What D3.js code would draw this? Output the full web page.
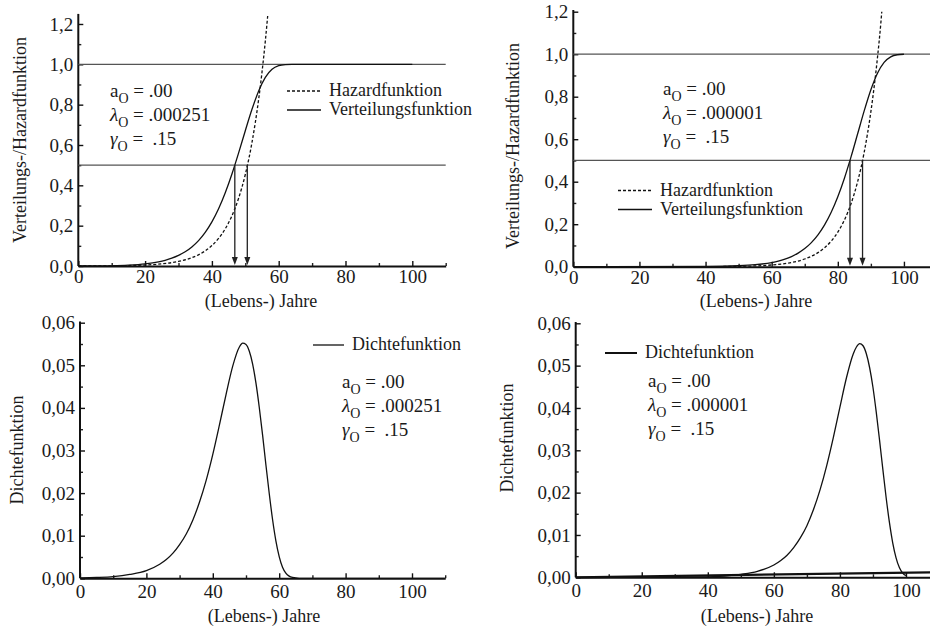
<!DOCTYPE html>
<html>
<head>
<meta charset="utf-8">
<script src="https://cdn.jsdelivr.net/npm/d3@7"></script>
<style>
  html, body { margin: 0; padding: 0; background: #fff; }
  svg { display: block; }
  text { font-family: "Liberation Serif", "Times New Roman", serif; fill: #1a1a1a; }
</style>
</head>
<body>
<svg id="chart" width="930" height="630"></svg>
<script>
// ---------------- DATA ----------------
// Panel A : lambda_0 = .000251
const distAgeA = [0,5,10,15,20,24,26,28,30,32,34,36,38,40,42,44,46,48,50,52,54,56,58,60,62,64,66,70,80,90,100];
const distValA = [0,0,0.0011,0.0042,0.0106,0.0206,0.0283,0.0386,0.0523,0.0705,0.0945,0.1260,0.1667,0.2186,0.2836,0.3629,0.4562,0.5608,0.6709,0.7770,0.8682,0.9352,0.9751,0.9932,0.9988,0.9999,1,1,1,1,1];
const hazAgeA = [0,10,20,25,30,34,38,40,42,44,46,48,50,52,54,55,56,56.7];
const hazValA = [0.00025,0.0011,0.0050,0.0107,0.0226,0.0412,0.0750,0.1013,0.1367,0.1845,0.2491,0.3362,0.4538,0.6126,0.8269,0.9607,1.1162,1.2398];
const densAgeA = [0,5,10,15,20,24,26,28,30,32,34,36,38,40,42,44,46,48,49,50,51,52,53,54,55,56,57,58,59,60,61,62,63,64,66,80,100,110];
const densValA = [0.0001,0.0002,0.0004,0.0009,0.0018,0.0033,0.0044,0.0059,0.0079,0.0104,0.0137,0.0179,0.0230,0.0291,0.0360,0.0432,0.0498,0.0543,0.0552,0.0549,0.0533,0.0503,0.0458,0.0401,0.0336,0.0266,0.0199,0.0138,0.0088,0.0051,0.0026,0.0012,0.0005,0.0002,0,0,0,0];
const markAgesA = [46.86, 50.6];   // F = 0.5 and h = 0.5

// Panel B : lambda_0 = .000001
const distAgeB = [0,40,50,55,60,62,64,66,68,70,72,74,76,78,80,82,84,86,88,90,92,94,96,98,100];
const distValB = [0,0.001,0.0044,0.0093,0.0197,0.0265,0.0356,0.0477,0.0639,0.0852,0.1133,0.1498,0.1967,0.2560,0.3291,0.4166,0.5168,0.6254,0.7343,0.8328,0.9106,0.9616,0.9877,0.9974,0.9997];
const hazAgeB = [0,40,50,60,65,70,74,76,78,80,82,84,86,88,90,91,92,93,93.3];
const hazValB = [0.000001,0.0004,0.0018,0.0081,0.0172,0.0363,0.0662,0.0893,0.1206,0.1628,0.2197,0.2966,0.4003,0.5404,0.7294,0.8475,0.9846,1.1440,1.2];
const densAgeB = [0,20,40,50,55,60,62,64,66,68,70,72,74,76,78,80,82,84,85,86,87,88,89,90,91,92,93,94,95,96,97,98,99,100];
const densValB = [0,0,0.0001,0.0007,0.0014,0.0029,0.0039,0.0052,0.0070,0.0093,0.0122,0.0160,0.0207,0.0264,0.0330,0.0402,0.0472,0.0527,0.0544,0.0552,0.0547,0.0528,0.0495,0.0449,0.0390,0.0324,0.0255,0.0188,0.0129,0.0081,0.0046,0.0023,0.0010,0.0004];
const baseAgeB = [0,110];
const baseValB = [0,0.0012];
const markAgesB = [83.68, 87.48];

const refLevels = [0.5, 1.0];
const xTicks = [0,20,40,60,80,100];
const xMinor = [10,30,50,70,90,110];
const yTicksTop = [0,0.2,0.4,0.6,0.8,1.0,1.2];
const yMinorTop = [0.1,0.3,0.5,0.7,0.9,1.1];
const yTicksBot = [0,0.01,0.02,0.03,0.04,0.05,0.06];
const yMinorBot = [0.005,0.015,0.025,0.035,0.045,0.055];

const xTitle = "(Lebens-) Jahre";
const yTitleTop = "Verteilungs-/Hazardfunktion";
const yTitleBot = "Dichtefunktion";
const legHazard = "Hazardfunktion";
const legDist = "Verteilungsfunktion";
const legDens = "Dichtefunktion";
const paramA = ".00";
const paramLambdaA = ".000251";
const paramLambdaB = ".000001";
const paramGamma = ".15";

// ---------------- DRAWING ----------------
const svg = d3.select("#chart");
const zip = (xs, ys) => xs.map((v, i) => [v, ys[i]]);
const commaFmt = (d) => (n) => d3.format("." + d + "f")(n).replace(".", ",");

function panel(cfg) {
  const x = d3.scaleLinear().domain([0, 110]).range(cfg.xr);
  const y = d3.scaleLinear().domain([0, cfg.ymax]).range(cfg.yr);
  const g = svg.append("g");

  // minor ticks
  g.append("g").attr("transform", `translate(0,${cfg.yr[0]})`)
    .call(d3.axisBottom(x).tickValues(xMinor).tickSize(-3).tickFormat(""))
    .call(a => a.select(".domain").remove())
    .call(a => a.selectAll("line").attr("stroke", "#222").attr("stroke-width", 1.4));
  g.append("g").attr("transform", `translate(${cfg.xr[0]},0)`)
    .call(d3.axisLeft(y).tickValues(cfg.yMinor).tickSize(-3).tickFormat(""))
    .call(a => a.select(".domain").remove())
    .call(a => a.selectAll("line").attr("stroke", "#222").attr("stroke-width", 1.4));

  // major axes
  const ax = g.append("g").attr("transform", `translate(0,${cfg.yr[0]})`)
    .call(d3.axisBottom(x).tickValues(xTicks).tickSize(-5).tickSizeOuter(0).tickPadding(cfg.xPad).tickFormat(d3.format("d")));
  const ay = g.append("g").attr("transform", `translate(${cfg.xr[0]},0)`)
    .call(d3.axisLeft(y).tickValues(cfg.yTicks).tickSize(-5).tickSizeOuter(0).tickPadding(5).tickFormat(commaFmt(cfg.dec)));
  [ax, ay].forEach(a => {
    a.select(".domain").attr("stroke", "#111").attr("stroke-width", 2);
    a.selectAll(".tick line").attr("stroke", "#111").attr("stroke-width", 1.4);
    a.selectAll("text").attr("font-family", "Liberation Serif, serif").attr("font-size", 19).attr("fill", "#1a1a1a");
  });
  ay.select(".domain").attr("d", `M0,${cfg.yr[0]}V${cfg.yTop}`);

  // axis titles
  g.append("text").attr("x", cfg.xTitleX).attr("y", cfg.xTitleY).attr("text-anchor", "middle")
    .attr("font-size", 18).text(xTitle);
  g.append("text").attr("transform", `translate(${cfg.yTitleX},${cfg.yTitleY}) rotate(-90)`)
    .attr("text-anchor", "middle").attr("font-size", 18).text(cfg.yTitle);

  return { g, x, y };
}

function params(g, x0, y0, lam) {
  const rows = [["a", " = " + paramA, "normal"], ["\u03BB", " = " + lam, "italic"], ["\u03B3", " =  " + paramGamma, "italic"]];
  rows.forEach((r, i) => {
    const t = g.append("text").attr("x", x0).attr("y", y0 + i * 24).attr("font-size", 19)
      .attr("xml:space", "preserve").style("white-space", "pre");
    t.append("tspan").attr("font-style", r[2]).text(r[0]);
    t.append("tspan").attr("font-size", 14).attr("dy", 6).text("O");
    t.append("tspan").attr("dy", -6).text(r[1]);
  });
}

function legendRow(g, x0, x1, y, text, dashed, width) {
  g.append("line").attr("x1", x0).attr("x2", x1).attr("y1", y).attr("y2", y)
    .attr("stroke", "#111").attr("stroke-width", width || 1.3)
    .attr("stroke-dasharray", dashed ? "3,2" : null);
  g.append("text").attr("x", x1 + 8).attr("y", y + 5).attr("font-size", 18).text(text);
}

function topPanel(cfg, distAge, distVal, hazAge, hazVal, marks, lam) {
  const p = panel(cfg);
  const { g, x, y } = p;
  // reference lines
  g.selectAll(".ref").data(refLevels).enter().append("line")
    .attr("x1", x(0)).attr("x2", x(110)).attr("y1", d => y(d)).attr("y2", d => y(d))
    .attr("stroke", "#555").attr("stroke-width", 1.2);
  const line = d3.line().x(d => x(d[0])).y(d => y(d[1])).curve(d3.curveMonotoneX);
  g.append("path").attr("d", line(zip(distAge, distVal))).attr("fill", "none")
    .attr("stroke", "#111").attr("stroke-width", 1.3);
  g.append("path").attr("d", line(zip(hazAge, hazVal))).attr("fill", "none")
    .attr("stroke", "#111").attr("stroke-width", 1.3).attr("stroke-dasharray", "3,2");
  // arrows
  marks.forEach(m => {
    const xm = x(m), yt = y(0.5), yb = y(0);
    g.append("line").attr("x1", xm).attr("x2", xm).attr("y1", yt).attr("y2", yb - 7)
      .attr("stroke", "#222").attr("stroke-width", 1.3);
    g.append("path").attr("d", `M${xm - 3},${yb - 9}L${xm + 3},${yb - 9}L${xm},${yb - 1}Z`).attr("fill", "#222");
  });
  params(g, cfg.px, cfg.py, lam);
  legendRow(g, cfg.lx0, cfg.lx1, cfg.ly, legHazard, true);
  legendRow(g, cfg.lx0, cfg.lx1, cfg.ly + 19, legDist, false);
  return p;
}

function bottomPanel(cfg, densAge, densVal, lam, extra) {
  const p = panel(cfg);
  const { g, x, y } = p;
  const line = d3.line().x(d => x(d[0])).y(d => y(d[1])).curve(d3.curveMonotoneX);
  if (extra) {
    g.append("path").attr("d", line(zip(extra[0], extra[1]))).attr("fill", "none")
      .attr("stroke", "#111").attr("stroke-width", 2.2);
  }
  g.append("path").attr("d", line(zip(densAge, densVal))).attr("fill", "none")
    .attr("stroke", "#111").attr("stroke-width", 1.3);
  params(g, cfg.px, cfg.py, lam);
  legendRow(g, cfg.lx0, cfg.lx1, cfg.ly, legDens, false, cfg.lw);
  return p;
}

topPanel({ xr: [78.3, 445.7], yr: [266, 13.9], yTop: 13.9, ymax: 1.25, yTicks: yTicksTop, yMinor: yMinorTop, dec: 1, xPad: 4,
  xTitleX: 261, xTitleY: 307, yTitleX: 26, yTitleY: 140, yTitle: yTitleTop,
  px: 110, py: 97, lx0: 287, lx1: 321, ly: 91 }, distAgeA, distValA, hazAgeA, hazValA, markAgesA, paramLambdaA);

topPanel({ xr: [573.3, 937], yr: [266.7, 11.7], yTop: 10, ymax: 1.2, yTicks: yTicksTop, yMinor: yMinorTop, dec: 1, xPad: 4,
  xTitleX: 756, xTitleY: 307, yTitleX: 519, yTitleY: 146, yTitle: yTitleTop,
  px: 663, py: 95, lx0: 618, lx1: 652, ly: 190.5 }, distAgeB, distValB, hazAgeB, hazValB, markAgesB, paramLambdaB);

bottomPanel({ xr: [80, 445.2], yr: [578.3, 322.7], yTop: 321.5, ymax: 0.06, yTicks: yTicksBot, yMinor: yMinorBot, dec: 2, xPad: 6,
  xTitleX: 264, xTitleY: 622, yTitleX: 23, yTitleY: 450, yTitle: yTitleBot,
  px: 342, py: 388, lx0: 313, lx1: 344, ly: 345, lw: 1.3 }, densAgeA, densValA, paramLambdaA, null);

bottomPanel({ xr: [575.7, 939], yr: [577.3, 323.3], yTop: 322, ymax: 0.06, yTicks: yTicksBot, yMinor: yMinorBot, dec: 2, xPad: 6,
  xTitleX: 757, xTitleY: 622, yTitleX: 513, yTitleY: 438, yTitle: yTitleBot,
  px: 648, py: 387, lx0: 605, lx1: 637, ly: 353, lw: 2 }, densAgeB, densValB, paramLambdaB, [baseAgeB, baseValB]);
</script>
</body>
</html>
